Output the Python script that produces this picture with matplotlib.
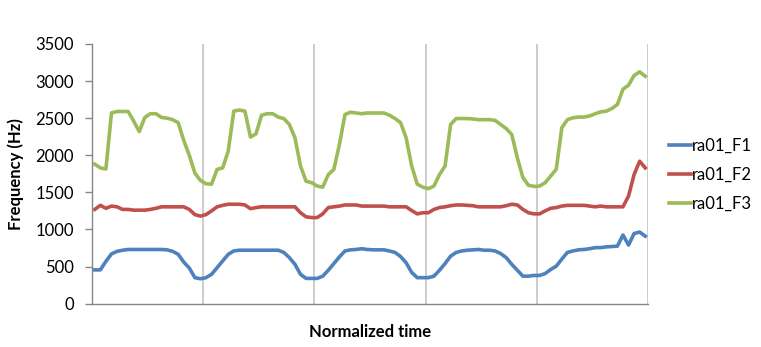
import matplotlib.pyplot as plt

plt.rcParams['font.family'] = ['Lato', 'DejaVu Sans']

# formant tracks, 100 samples each (5 tokens x 20 samples)
f1 = [455, 455, 570, 670, 705, 720, 730, 730, 730, 730, 730, 730, 730, 725, 705, 665, 560, 480, 350, 335,
      350, 395, 485, 575, 665, 710, 720, 720, 720, 720, 720, 720, 720, 720, 690, 620, 530, 395, 340, 340,
      340, 370, 450, 540, 630, 710, 725, 730, 740, 730, 725, 725, 725, 710, 690, 635, 550, 420, 350, 350,
      350, 370, 450, 540, 640, 690, 710, 720, 725, 730, 720, 720, 710, 675, 620, 530, 450, 370, 370, 380,
      380, 405, 460, 505, 600, 690, 710, 725, 730, 740, 755, 755, 765, 770, 775, 925, 790, 945, 965, 910]
f2 = [1270, 1325, 1285, 1315, 1305, 1270, 1270, 1260, 1260, 1260, 1270, 1285, 1305, 1305, 1305, 1305, 1305, 1270, 1200, 1180,
      1200, 1250, 1305, 1325, 1340, 1340, 1340, 1330, 1280, 1295, 1305, 1305, 1305, 1305, 1305, 1305, 1305, 1225, 1170, 1160,
      1160, 1210, 1295, 1305, 1315, 1330, 1330, 1330, 1315, 1315, 1315, 1315, 1315, 1305, 1305, 1305, 1305, 1255, 1210, 1225,
      1225, 1270, 1295, 1305, 1320, 1330, 1330, 1325, 1320, 1305, 1305, 1305, 1305, 1305, 1320, 1340, 1330, 1270, 1225, 1210,
      1210, 1250, 1285, 1295, 1315, 1325, 1325, 1325, 1325, 1315, 1305, 1315, 1305, 1305, 1305, 1305, 1450, 1740, 1920, 1830]
f3 = [1880, 1830, 1815, 2570, 2590, 2590, 2590, 2460, 2320, 2510, 2560, 2560, 2510, 2500, 2480, 2440, 2200, 2000, 1760, 1660,
      1616, 1610, 1810, 1830, 2055, 2595, 2610, 2595, 2245, 2290, 2540, 2560, 2560, 2515, 2495, 2415, 2235, 1855, 1650, 1630,
      1585, 1570, 1740, 1810, 2145, 2550, 2580, 2570, 2560, 2570, 2570, 2570, 2570, 2540, 2495, 2440, 2235, 1855, 1610, 1570,
      1550, 1585, 1740, 1855, 2415, 2495, 2495, 2495, 2490, 2480, 2480, 2480, 2470, 2415, 2360, 2280, 1965, 1700, 1595, 1580,
      1585, 1630, 1720, 1810, 2370, 2480, 2505, 2515, 2515, 2530, 2560, 2585, 2595, 2630, 2685, 2890, 2945, 3075, 3125, 3065]
names = ['ra01_F1', 'ra01_F2', 'ra01_F3']
colors = ['#4F81BD', '#C0504D', '#9BBB59']

fig = plt.figure(figsize=(7.61, 3.47), dpi=100)
ax = fig.add_axes([0.1209, 0.125, 0.7306, 0.7482])

x = list(range(len(f1)))
for y, name, c in zip([f1, f2, f3], names, colors):
    ax.plot(x, y, color=c, lw=2.6, label=name, solid_joinstyle='round')

ax.set_xlim(-0.5, len(f1) - 0.5)
ax.set_ylim(0, 3500)
ax.set_yticks(range(0, 3501, 500))

# category gridlines every 20 samples
ax.set_xticks([19.5, 39.5, 59.5, 79.5, 99.5])
ax.set_xticklabels([])
ax.tick_params(axis='x', length=0)
ax.xaxis.grid(True, color='#BFBFBF', lw=1.1)
ax.set_axisbelow(True)

ax.tick_params(axis='y', direction='out', length=5, width=1, color='#868686',
               labelsize=12, pad=8)
for s in ['top', 'right']:
    ax.spines[s].set_visible(False)
for s in ['left', 'bottom']:
    ax.spines[s].set_color('#868686')
    ax.spines[s].set_linewidth(1)

ax.set_ylabel('Frequency (Hz)', fontsize=12, fontweight='bold', labelpad=8)
ax.set_xlabel('Normalized time', fontsize=12, fontweight='bold', labelpad=11)

ax.legend(loc='center left', bbox_to_anchor=(1.010, 0.496), frameon=False,
          fontsize=12, handlelength=1.35, handletextpad=0.05, labelspacing=0.8,
          borderpad=0.4)

fig.savefig('out.png', dpi=100)
